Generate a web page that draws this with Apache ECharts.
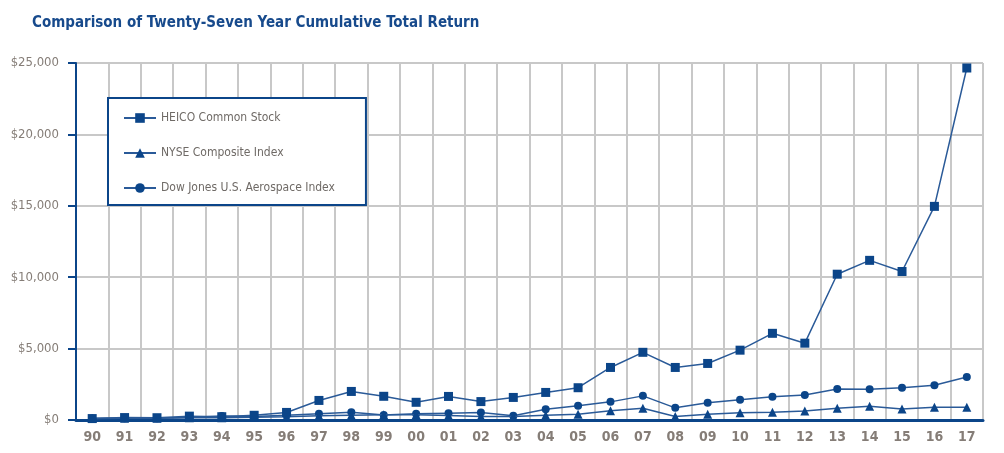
<!DOCTYPE html>
<html>
<head>
<meta charset="utf-8">
<script src="https://cdn.jsdelivr.net/npm/echarts@6/dist/echarts.min.js"></script>
<style>
html,body{margin:0;padding:0;background:#fff;}
#chart{width:1004px;height:453px;}
</style>
</head>
<body>
<div id="chart"></div>
<script>
const categories = ['90','91','92','93','94','95','96','97','98','99','00','01','02','03','04','05','06','07','08','09','10','11','12','13','14','15','16','17'];
const heico = [100,170,160,270,230,330,530,1370,2000,1660,1240,1650,1290,1580,1930,2260,3680,4740,3680,3960,4890,6070,5380,10210,11180,10400,14960,24650];
const nyse  = [100,120,130,150,160,200,230,290,330,360,370,320,240,250,330,400,650,820,250,400,510,540,630,820,960,770,890,890];
const dow   = [100,120,130,180,280,250,330,440,540,350,430,480,520,290,760,990,1270,1690,850,1210,1420,1630,1750,2170,2150,2260,2430,3010];
const yTicks = [0,5000,10000,15000,20000,25000];

const FONT = '"DejaVu Sans Condensed","Liberation Sans Narrow","Roboto",sans-serif';
const DARK = '#0b4589';
const LINE = '#2a5a98';
const GREY = '#c8c8c8';
const LABEL = '#857d77';

const chart = echarts.init(document.getElementById('chart'), null, {renderer:'canvas'});
chart.setOption({
  animation:false,
  backgroundColor:'#fff',
  title:{
    text:'Comparison of Twenty-Seven Year Cumulative Total Return',
    left:27, top:11,
    textStyle:{fontFamily:FONT, fontSize:15, fontWeight:'bold', color:'#174a8c'}
  },
  legend:{
    orient:'vertical',
    left:108, top:98,
    padding:[14,31,11,15],
    itemWidth:32, itemHeight:12, itemGap:23,
    borderColor:DARK, borderWidth:2,
    backgroundColor:'#fff',
    textStyle:{fontFamily:FONT, fontSize:12, color:'#6f6a66'},
    data:['HEICO Common Stock','NYSE Composite Index','Dow Jones U.S. Aerospace Index']
  },
  grid:{left:76, right:21, top:63, bottom:33, containLabel:false},
  xAxis:{
    type:'category',
    data:categories,
    boundaryGap:true,
    axisLine:{show:true, lineStyle:{color:DARK, width:3}},
    axisTick:{show:false},
    axisLabel:{fontFamily:FONT, fontSize:14, fontWeight:'bold', color:LABEL, margin:10, interval:0},
    splitLine:{show:true, interval:0, lineStyle:{color:GREY, width:2}}
  },
  yAxis:{
    type:'value',
    min:yTicks[0], max:yTicks[yTicks.length-1], interval:yTicks[1]-yTicks[0],
    axisLine:{show:true, lineStyle:{color:DARK, width:2}},
    axisTick:{show:true, length:8, lineStyle:{color:DARK, width:2}},
    axisLabel:{fontFamily:FONT, fontSize:13, color:LABEL, margin:17,
      formatter:function(v){ return '$' + v.toLocaleString('en-US'); }},
    splitLine:{show:true, lineStyle:{color:GREY, width:2}}
  },
  series:[
    {name:'HEICO Common Stock', type:'line', data:heico, symbol:'rect', symbolSize:9,
     itemStyle:{color:DARK}, lineStyle:{color:LINE, width:1.5}, z:5},
    {name:'NYSE Composite Index', type:'line', data:nyse, symbol:'triangle', symbolSize:9,
     itemStyle:{color:DARK}, lineStyle:{color:LINE, width:1.5}, z:4},
    {name:'Dow Jones U.S. Aerospace Index', type:'line', data:dow, symbol:'circle', symbolSize:8,
     itemStyle:{color:DARK}, lineStyle:{color:LINE, width:1.5}, z:3}
  ]
});
</script>
</body>
</html>
